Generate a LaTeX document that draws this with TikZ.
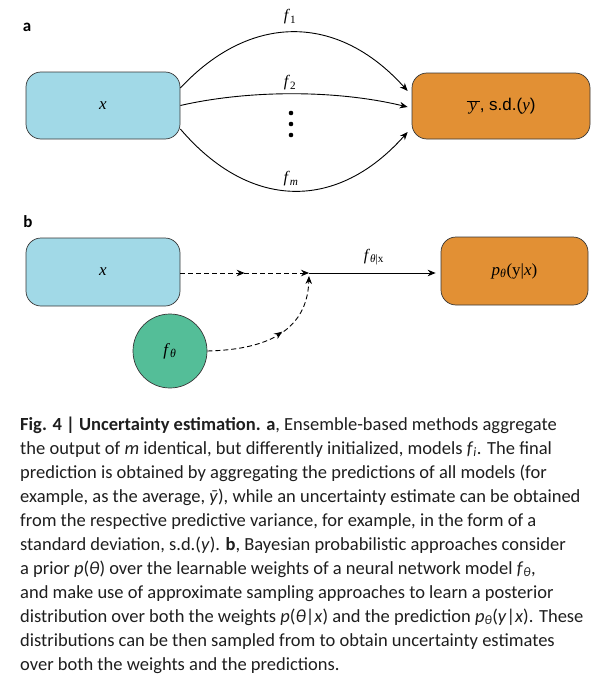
\documentclass[tikz,border=0pt]{standalone}
\usepackage{fontspec}
\setmainfont{Carlito}
\newfontfamily\serif{Liberation Serif}
\newfontfamily\arial{Liberation Sans}
\usetikzlibrary{arrows.meta,decorations.markings}
\definecolor{skyb}{RGB}{161,217,231}
\definecolor{orng}{RGB}{226,144,52}
\definecolor{grn}{RGB}{84,190,152}
\definecolor{edge}{RGB}{55,55,55}
\definecolor{ink}{RGB}{30,30,30}
\tikzset{
  box/.style={draw=edge, line width=0.7pt, rounded corners=15pt, inner sep=0pt},
  boxlbl/.style={font=\serif\fontsize{17}{17}\selectfont},
  flbl/.style={font=\serif\fontsize{16}{16}\selectfont, inner sep=0pt},
  arr/.style={-{Stealth[length=8pt,width=6.5pt]}, line width=0.9pt},
  dsh/.style={dash pattern=on 5pt off 3pt, line width=0.9pt},
  midarrow/.style={postaction={decorate}, decoration={markings,
      mark=at position #1 with {\arrow{Stealth[length=8pt,width=6.5pt]}}}},
  panel/.style={font=\bfseries\fontsize{17}{17}\selectfont, inner sep=0pt},
  captext/.style={anchor=base west, inner sep=0pt, text=ink, font=\fontsize{18.5}{24}\selectfont}
}
\begin{document}
\begin{tikzpicture}[x=1pt,y=-1pt]
\useasboundingbox (0,0) rectangle (613,685);
% ---------- panel a ----------
\node[panel] (la) at (27,27) {a};
\node[box, fill=skyb, minimum width=154pt, minimum height=67pt, boxlbl] (xa) at (103,105.5) {\itshape x};
\node[box, fill=orng, minimum width=178pt, minimum height=66pt, boxlbl] (ya) at (501,106)
  {$\overline{\mbox{\serif\itshape\,y\,}}${\arial, s.d.(}\textit{y}{\arial)}};
\draw[arr] ([yshift=17.5pt]xa.east) .. controls +(70,-75) and +(-70,-78) .. ([xshift=-4pt,yshift=15pt]ya.west);
\draw[arr] (xa.east) .. controls +(70,-16) and +(-70,-17) .. ([xshift=-4pt,yshift=-1pt]ya.west);
\draw[arr] ([yshift=-23.5pt]xa.east) .. controls +(70,82) and +(-70,79) .. ([xshift=-4pt,yshift=-26pt]ya.west);
\node[flbl] (f1) at (290,17) {\textit{f}\textsubscript{1}};
\node[flbl] (f2) at (290,83) {\textit{f}\textsubscript{2}};
\node[flbl] (fm) at (291,179) {\textit{f}\textsubscript{\textit{m}}};
\fill (291,113) circle (2.3pt) (291,124) circle (2.3pt) (291,135) circle (2.3pt);
% ---------- panel b ----------
\node[panel] (lb) at (28,222) {b};
\node[box, fill=skyb, minimum width=154pt, minimum height=68pt, boxlbl] (xb) at (103,272) {\itshape x};
\node[box, fill=orng, minimum width=147pt, minimum height=68pt, boxlbl] (yb) at (514.5,271)
  {\textit{p}\textsubscript{\textit{θ}}(y|\textit{x})};
\node[circle, draw=edge, line width=0.7pt, fill=grn, minimum size=74pt, inner sep=0pt, boxlbl] (th) at (170,351)
  {\textit{f}\textsubscript{\textit{θ}}};
\coordinate (J) at (309,273);
\draw[dsh, midarrow=0.5, -{Stealth[length=8pt,width=6.5pt]}] (xb.east |- J) -- (J);
\draw[arr] (J) -- ([xshift=-5pt]yb.west |- J);
\draw[dsh, midarrow=0.55, -{Stealth[length=8pt,width=6.5pt]}] (th.east) .. controls (250,350) and (307,340) .. ([yshift=-3pt]J);
\node[flbl] (fthx) at (374,257) {\textit{f}\textsubscript{\textit{θ}|x}};
% ---------- caption ----------
\node[captext] (c1) at (20,430) {\textbf{Fig. 4 | Uncertainty estimation. a}, Ensemble-based methods aggregate};
\node[captext] (c2) at (20,454) {the output of \textit{m} identical, but differently initialized, models \textit{f}\textsubscript{\textit{i}}. The final};
\node[captext] (c3) at (20,478) {prediction is obtained by aggregating the predictions of all models (for};
\node[captext] (c4) at (20,502) {example, as the average, \textit{ȳ}), while an uncertainty estimate can be obtained};
\node[captext] (c5) at (20,526) {from the respective predictive variance, for example, in the form of a};
\node[captext] (c6) at (20,550) {standard deviation, s.d.(\textit{y}). \textbf{b}, Bayesian probabilistic approaches consider};
\node[captext] (c7) at (20,574) {a prior \textit{p}(\textit{θ}) over the learnable weights of a neural network model \textit{f}\textsubscript{\textit{θ}},};
\node[captext] (c8) at (20,598) {and make use of approximate sampling approaches to learn a posterior};
\node[captext] (c9) at (20,622) {distribution over both the weights \textit{p}(\textit{θ}|\textit{x}) and the prediction \textit{p}\textsubscript{\textit{θ}}(\textit{y}|\textit{x}). These};
\node[captext] (c10) at (20,646) {distributions can be then sampled from to obtain uncertainty estimates};
\node[captext] (c11) at (20,670) {over both the weights and the predictions.};
\end{tikzpicture}
\end{document}
